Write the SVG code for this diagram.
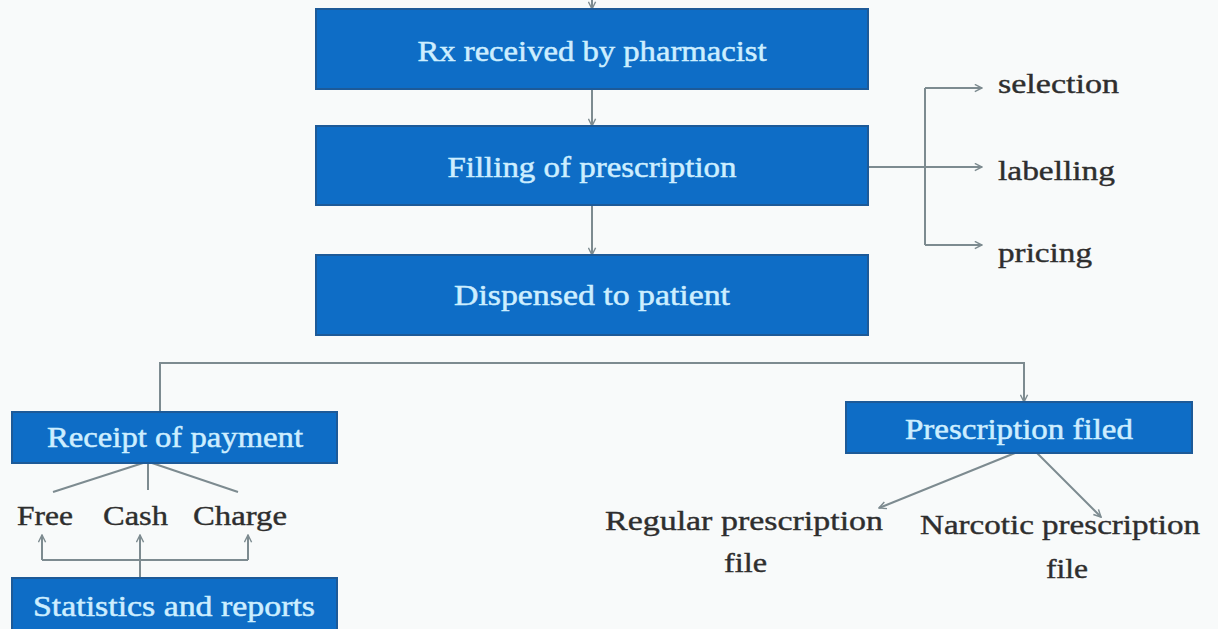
<svg xmlns="http://www.w3.org/2000/svg" width="1218" height="629" viewBox="0 0 1218 629">
<style>
.box{fill:#0e6dc6;stroke:#1d5a98;stroke-width:2}
.bt{font-family:"Liberation Serif",serif;font-size:29px;fill:#cdeeff;stroke:#cdeeff;stroke-width:0.5;text-anchor:middle}
.lt{font-family:"Liberation Serif",serif;font-size:28px;fill:#2e2e2e;stroke:#2e2e2e;stroke-width:0.4}
.c{fill:none;stroke:#7d8b90;stroke-width:2}
.a{marker-end:url(#ah)}
</style>
<defs>
<marker id="ah" viewBox="0 0 10 10" refX="9" refY="5" markerWidth="9" markerHeight="9" markerUnits="userSpaceOnUse" orient="auto">
<path d="M1,1 L9,5 L1,9" fill="none" stroke="#7d8b90" stroke-width="1.6"/>
</marker>
</defs>
<rect width="1218" height="629" fill="#f8fafa"/>
<g id="connectors">
<line class="c a" x1="592" y1="0" x2="592" y2="9"/>
<line class="c a" x1="592" y1="89" x2="592" y2="126"/>
<line class="c a" x1="592" y1="205" x2="592" y2="255"/>
<polyline class="c" points="868,167 925,167"/>
<line class="c" x1="925" y1="88" x2="925" y2="245"/>
<line class="c a" x1="925" y1="88" x2="982" y2="88"/>
<line class="c a" x1="925" y1="167" x2="982" y2="167"/>
<line class="c a" x1="925" y1="245" x2="982" y2="245"/>
<polyline class="c a" points="160,412 160,363 1024,363 1024,402"/>
<line class="c" x1="143" y1="463" x2="53" y2="492"/>
<line class="c" x1="148" y1="463" x2="148" y2="490"/>
<line class="c" x1="152" y1="463" x2="238" y2="492"/>
<polyline class="c" points="42,560 248,560"/>
<line class="c a" x1="42" y1="560" x2="42" y2="535"/>
<line class="c a" x1="140" y1="578" x2="140" y2="535"/>
<line class="c a" x1="248" y1="560" x2="248" y2="535"/>
<line class="c a" x1="1015" y1="453" x2="879" y2="508"/>
<line class="c a" x1="1037" y1="453" x2="1101" y2="517"/>
</g>
<g id="rx">
<rect class="box" x="316" y="9" width="552" height="80"/>
<text class="bt" x="592" y="61" textLength="349" lengthAdjust="spacingAndGlyphs">Rx received by pharmacist</text>
</g>
<g id="filling">
<rect class="box" x="316" y="126" width="552" height="79"/>
<text class="bt" x="592" y="177" textLength="289" lengthAdjust="spacingAndGlyphs">Filling of prescription</text>
</g>
<g id="dispensed">
<rect class="box" x="316" y="255" width="552" height="80"/>
<text class="bt" x="592" y="305" textLength="276" lengthAdjust="spacingAndGlyphs">Dispensed to patient</text>
</g>
<g id="selection"><text class="lt" x="998" y="93" textLength="121" lengthAdjust="spacingAndGlyphs">selection</text></g>
<g id="labelling"><text class="lt" x="998" y="180" textLength="117" lengthAdjust="spacingAndGlyphs">labelling</text></g>
<g id="pricing"><text class="lt" x="998" y="262" textLength="94" lengthAdjust="spacingAndGlyphs">pricing</text></g>
<g id="receipt">
<rect class="box" x="12" y="412" width="325" height="51"/>
<text class="bt" x="175" y="447" textLength="256" lengthAdjust="spacingAndGlyphs">Receipt of payment</text>
</g>
<g id="free"><text class="lt" x="17" y="525" textLength="56" lengthAdjust="spacingAndGlyphs">Free</text></g>
<g id="cash"><text class="lt" x="103" y="525" textLength="65" lengthAdjust="spacingAndGlyphs">Cash</text></g>
<g id="charge"><text class="lt" x="193" y="525" textLength="94" lengthAdjust="spacingAndGlyphs">Charge</text></g>
<g id="statistics">
<rect class="box" x="12" y="578" width="325" height="60"/>
<text class="bt" x="174" y="616" textLength="282" lengthAdjust="spacingAndGlyphs">Statistics and reports</text>
</g>
<g id="filed">
<rect class="box" x="846" y="402" width="346" height="51"/>
<text class="bt" x="1019" y="439" textLength="228" lengthAdjust="spacingAndGlyphs">Prescription filed</text>
</g>
<g id="regular">
<text class="lt" x="605" y="530" textLength="278" lengthAdjust="spacingAndGlyphs">Regular  prescription</text>
<text class="lt" x="724" y="572" textLength="43" lengthAdjust="spacingAndGlyphs">file</text>
</g>
<g id="narcotic">
<text class="lt" x="920" y="534" textLength="280" lengthAdjust="spacingAndGlyphs">Narcotic prescription</text>
<text class="lt" x="1046" y="578" textLength="42" lengthAdjust="spacingAndGlyphs">file</text>
</g>
</svg>
